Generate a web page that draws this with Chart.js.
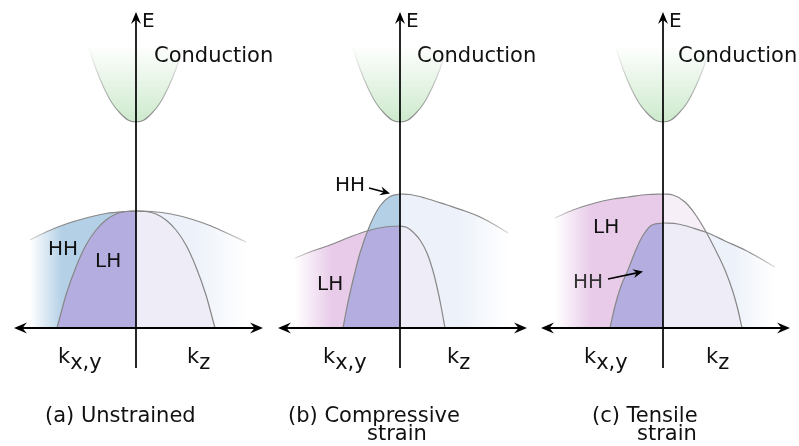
<!DOCTYPE html>
<html>
<head>
<meta charset="utf-8">
<script src="https://cdn.jsdelivr.net/npm/chart.js@4.4.0/dist/chart.umd.min.js"></script>
<style>
  html, body { margin: 0; padding: 0; background: #fff; }
  #wrap { width: 799px; height: 446px; }
</style>
</head>
<body>
<div id="wrap"><canvas id="bands" width="799" height="446"></canvas></div>
<script>
// k along the horizontal axis (left = kx,y, right = kz), E upwards, E = 0 on the k axis
const condK = [-0.48, -0.40, -0.32, -0.24, -0.16, -0.08, 0, 0.08, 0.16, 0.24, 0.32, 0.40, 0.48];
const condE = [2.83, 2.59, 2.40, 2.25, 2.15, 2.08, 2.06, 2.08, 2.15, 2.25, 2.40, 2.59, 2.83];

// (a) unstrained
const aHHleftK = [-1.06, -0.9, -0.7, -0.5, -0.3, -0.1, 0];
const aHHleftE = [0.88, 0.96, 1.04, 1.10, 1.145, 1.165, 1.17];
const aHHrightK = [0, 0.15, 0.35, 0.55, 0.75, 0.95, 1.10];
const aHHrightE = [1.17, 1.165, 1.14, 1.09, 1.02, 0.93, 0.86];
const aLHleftK = [-0.79, -0.75, -0.7, -0.6, -0.5, -0.4, -0.3, -0.2, -0.1, 0];
const aLHleftE = [0, 0.15, 0.33, 0.61, 0.83, 0.98, 1.08, 1.14, 1.165, 1.17];
const aLHrightK = [0, 0.1, 0.2, 0.3, 0.4, 0.5, 0.6, 0.7, 0.75, 0.79];
const aLHrightE = [1.17, 1.165, 1.14, 1.08, 0.98, 0.83, 0.61, 0.33, 0.15, 0];

// (b) compressive strain
const bLHleftK = [-1.05, -0.9, -0.7, -0.5, -0.33, -0.15, 0];
const bLHleftE = [0.70, 0.76, 0.83, 0.91, 0.97, 1.01, 1.02];
const bHHleftK = [-0.57, -0.54, -0.5, -0.45, -0.4, -0.3, -0.2, -0.1, 0];
const bHHleftE = [0, 0.16, 0.35, 0.56, 0.75, 1.03, 1.22, 1.315, 1.34];
const bHHrightK = [0, 0.1, 0.25, 0.47, 0.65, 0.8, 0.95, 1.08];
const bHHrightE = [1.34, 1.335, 1.30, 1.23, 1.17, 1.11, 1.03, 0.95];
const bLHrightK = [0, 0.07, 0.13, 0.2, 0.27, 0.33, 0.37, 0.41, 0.45];
const bLHrightE = [1.02, 1.005, 0.96, 0.88, 0.75, 0.57, 0.41, 0.22, 0];

// (c) tensile strain
const cLHleftK = [-1.08, -0.9, -0.68, -0.5, -0.35, -0.15, 0];
const cLHleftE = [1.10, 1.18, 1.25, 1.29, 1.31, 1.335, 1.34];
const cHHleftK = [-0.53, -0.48, -0.42, -0.35, -0.28, -0.21, -0.11, 0];
const cHHleftE = [0, 0.22, 0.42, 0.58, 0.76, 0.91, 1.03, 1.05];
const cLHrightK = [0, 0.1, 0.22, 0.32, 0.42, 0.52, 0.62, 0.7, 0.75, 0.79];
const cLHrightE = [1.34, 1.33, 1.26, 1.14, 0.98, 0.79, 0.58, 0.36, 0.18, 0];
const cHHrightK = [0, 0.15, 0.3, 0.45, 0.62, 0.82, 1.0, 1.12];
const cHHrightE = [1.05, 1.04, 1.00, 0.95, 0.87, 0.78, 0.68, 0.61];

const panelTitles = [["(a) Unstrained"], ["(b) Compressive", "strain"], ["(c) Tensile", "strain"]];
const axisNames = ["E", "k", "x,y", "z"];
const bandNames = ["HH", "LH"];

const FONT = "'DejaVu Sans', Verdana, sans-serif";
const BLUE = "180,208,230";
const PURPLE = "180,173,224";
const PINK = "232,203,233";
const PALE_BLUE = "237,242,250";
const LAVENDER = "238,236,247";
const PALE_PINK = "247,239,248";
const GREEN = "196,230,196";
const LINE = "135,135,135";

const pts = (ks, es) => ks.map((k, i) => ({ x: k, y: es[i] }));

function fadeX(xid, k0, k1, rgb, a0, a1) {
    return (c) => {
        const chart = c.chart;
        if (!chart.chartArea) return `rgba(${rgb},${a1})`;
        const s = chart.scales[xid];
        const g = chart.ctx.createLinearGradient(s.getPixelForValue(k0), 0, s.getPixelForValue(k1), 0);
        g.addColorStop(0, `rgba(${rgb},${a0})`);
        g.addColorStop(1, `rgba(${rgb},${a1})`);
        return g;
    };
}

function fadeY(e0, e1, rgb, a0, a1) {
    return (c) => {
        const chart = c.chart;
        if (!chart.chartArea) return `rgba(${rgb},${a0})`;
        const s = chart.scales.y;
        const g = chart.ctx.createLinearGradient(0, s.getPixelForValue(e0), 0, s.getPixelForValue(e1));
        g.addColorStop(0, `rgba(${rgb},${a0})`);
        g.addColorStop(1, `rgba(${rgb},${a1})`);
        return g;
    };
}

const datasets = [];
function add(xid, ks, es, opts) {
    datasets.push(Object.assign({
        xAxisID: xid,
        yAxisID: "y",
        data: pts(ks, es),
        borderWidth: 0,
        borderColor: "rgba(0,0,0,0)",
        backgroundColor: "rgba(0,0,0,0)",
        fill: false,
        pointRadius: 0,
        cubicInterpolationMode: "monotone"
    }, opts));
    return datasets.length - 1;
}
function stroke(xid, ks, es, color) {
    add(xid, ks, es, { borderWidth: 1.2, borderColor: color || `rgb(${LINE})` });
}

const solid = (rgb) => `rgb(${rgb})`;
const clear = "rgba(0,0,0,0)";

// fills, back to front
["xa", "xb", "xc"].forEach((xid) => {
    add(xid, condK, condE, { fill: { value: 2.83 }, backgroundColor: fadeY(2.06, 2.83, GREEN, 0.85, 0) });
});

add("xa", aHHleftK, aHHleftE, { fill: "origin", backgroundColor: fadeX("xa", -1.06, -0.74, BLUE, 0, 1) });
add("xa", aHHrightK, aHHrightE, { fill: "origin", backgroundColor: fadeX("xa", 0.6, 1.10, PALE_BLUE, 1, 0) });
add("xa", aLHleftK, aLHleftE, { fill: "origin", backgroundColor: solid(PURPLE) });
add("xa", aLHrightK, aLHrightE, { fill: "origin", backgroundColor: solid(LAVENDER) });

const bLHfill = add("xb", bLHleftK, bLHleftE, { fill: "origin", backgroundColor: fadeX("xb", -1.05, -0.68, PINK, 0, 1) });
add("xb", bHHrightK, bHHrightE, { fill: "origin", backgroundColor: fadeX("xb", 0.6, 1.08, PALE_BLUE, 1, 0) });
add("xb", bHHleftK, bHHleftE, { fill: "origin", backgroundColor: solid(PURPLE) });
add("xb", bHHleftK, bHHleftE, { fill: { target: bLHfill, above: solid(BLUE), below: clear } });
add("xb", bLHrightK, bLHrightE, { fill: "origin", backgroundColor: solid(LAVENDER) });

add("xc", cLHleftK, cLHleftE, { fill: "origin", backgroundColor: fadeX("xc", -1.08, -0.72, PINK, 0, 1) });
const cHHfill = add("xc", cHHrightK, cHHrightE, { fill: "origin", backgroundColor: fadeX("xc", 0.7, 1.12, PALE_BLUE, 1, 0) });
add("xc", cHHleftK, cHHleftE, { fill: "origin", backgroundColor: solid(PURPLE) });
add("xc", cLHrightK, cLHrightE, { fill: "origin", backgroundColor: solid(LAVENDER) });
add("xc", cLHrightK, cLHrightE, { fill: { target: cHHfill, above: solid(PALE_PINK), below: clear } });

// outlines on top
["xa", "xb", "xc"].forEach((xid) => {
    add(xid, condK, condE, { borderWidth: 1.1, borderColor: fadeY(2.06, 2.83, LINE, 1, 0) });
});
stroke("xa", aHHleftK, aHHleftE, fadeX("xa", -1.06, -0.8, LINE, 0.3, 1));
stroke("xa", aHHrightK, aHHrightE, fadeX("xa", 0.8, 1.10, LINE, 1, 0.3));
stroke("xa", aLHleftK, aLHleftE);
stroke("xa", aLHrightK, aLHrightE);
stroke("xb", bLHleftK, bLHleftE, fadeX("xb", -1.05, -0.8, LINE, 0.3, 1));
stroke("xb", bHHrightK, bHHrightE, fadeX("xb", 0.8, 1.08, LINE, 1, 0.3));
stroke("xb", bHHleftK, bHHleftE);
stroke("xb", bLHrightK, bLHrightE);
stroke("xc", cLHleftK, cLHleftE, fadeX("xc", -1.08, -0.8, LINE, 0.3, 1));
stroke("xc", cHHrightK, cHHrightE, fadeX("xc", 0.85, 1.12, LINE, 1, 0.3));
stroke("xc", cHHleftK, cHHleftE);
stroke("xc", cLHrightK, cLHrightE);

// later datasets are drawn on top
datasets.forEach((d, i) => { d.order = -i; });

// text and arrows of each panel, in k / E units of that panel
const panels = [
    { xid: "xa", cond: 0.18, kxy: -0.78, kz: 0.51, title: [-0.91], hh: [-0.88, 0.73], lh: [-0.41, 0.61], arrow: null },
    { xid: "xb", cond: 0.17, kxy: -0.77, kz: 0.47, title: [-1.12, -0.33], hh: [-0.65, 1.37], lh: [-0.83, 0.38], arrow: [-0.31, 1.40, -0.10, 1.345] },
    { xid: "xc", cond: 0.15, kxy: -0.79, kz: 0.43, title: [-0.71, -0.26], hh: [-0.90, 0.40], lh: [-0.70, 0.95], arrow: [-0.55, 0.49, -0.20, 0.565] }
];

function arrowHead(ctx, x, y, ang, len, half) {
    ctx.save();
    ctx.translate(x, y);
    ctx.rotate(ang);
    ctx.beginPath();
    ctx.moveTo(0, 0);
    ctx.lineTo(-len, -half);
    ctx.lineTo(-len * 0.65, 0);
    ctx.lineTo(-len, half);
    ctx.closePath();
    ctx.fill();
    ctx.restore();
}

const axesPlugin = {
    id: "bandAxes",
    afterDatasetsDraw(chart) {
        const ctx = chart.ctx;
        const y = chart.scales.y;
        ctx.save();
        ctx.strokeStyle = "#000";
        ctx.fillStyle = "#000";
        panels.forEach((p) => {
            const x = chart.scales[p.xid];
            const x0 = x.getPixelForValue(0);
            const y0 = y.getPixelForValue(0);
            // E axis
            ctx.lineWidth = 1.7;
            ctx.beginPath();
            ctx.moveTo(x0, y.getPixelForValue(-0.40));
            ctx.lineTo(x0, y.getPixelForValue(3.16) + 6);
            ctx.stroke();
            arrowHead(ctx, x0, y.getPixelForValue(3.16), -Math.PI / 2, 12, 5);
            // k axis
            const xl = x.getPixelForValue(-1.22);
            const xr = x.getPixelForValue(1.27);
            ctx.lineWidth = 1.8;
            ctx.beginPath();
            ctx.moveTo(xl + 6, y0);
            ctx.lineTo(xr - 6, y0);
            ctx.stroke();
            arrowHead(ctx, xl, y0, Math.PI, 13, 5.5);
            arrowHead(ctx, xr, y0, 0, 13, 5.5);
            // label arrows
            if (p.arrow) {
                const [k1, e1, k2, e2] = p.arrow;
                const ax1 = x.getPixelForValue(k1), ay1 = y.getPixelForValue(e1);
                const ax2 = x.getPixelForValue(k2), ay2 = y.getPixelForValue(e2);
                const ang = Math.atan2(ay2 - ay1, ax2 - ax1);
                ctx.lineWidth = 1.7;
                ctx.beginPath();
                ctx.moveTo(ax1, ay1);
                ctx.lineTo(ax2 - 5 * Math.cos(ang), ay2 - 5 * Math.sin(ang));
                ctx.stroke();
                arrowHead(ctx, ax2, ay2, ang, 10, 4.5);
            }
        });
        ctx.restore();
    },
    afterDraw(chart) {
        const ctx = chart.ctx;
        const y = chart.scales.y;
        ctx.save();
        ctx.fillStyle = "#111";
        ctx.textAlign = "left";
        ctx.textBaseline = "alphabetic";
        panels.forEach((p, i) => {
            const x = chart.scales[p.xid];
            const px = (k) => x.getPixelForValue(k);
            const py = (e) => y.getPixelForValue(e);
            ctx.fillStyle = "#111";
            ctx.font = `20px ${FONT}`;
            ctx.fillText(axisNames[0], px(0.06), py(3.01));
            ctx.font = `21px ${FONT}`;
            ctx.fillText("Conduction", px(p.cond), py(2.66));
            // k labels with lowered index
            ctx.fillText(axisNames[1], px(p.kxy), py(-0.35));
            const kw = ctx.measureText(axisNames[1]).width;
            ctx.fillText(axisNames[2], px(p.kxy) + kw, py(-0.41));
            ctx.fillText(axisNames[1], px(p.kz), py(-0.35));
            ctx.fillText(axisNames[3], px(p.kz) + kw, py(-0.41));
            // titles
            ctx.fillText(panelTitles[i][0], px(p.title[0]), py(-0.94));
            if (panelTitles[i][1]) ctx.fillText(panelTitles[i][1], px(p.title[1]), py(-1.12));
            // band names
            ctx.font = `20px ${FONT}`;
            ctx.fillStyle = i === 2 ? "#333" : "#111";
            ctx.fillText(bandNames[0], px(p.hh[0]), py(p.hh[1]));
            ctx.fillStyle = "#111";
            ctx.fillText(bandNames[1], px(p.lh[0]), py(p.lh[1]));
        });
        ctx.restore();
    }
};

const hidden = (min, max) => ({ type: "linear", display: false, min: min, max: max });

new Chart(document.getElementById("bands"), {
    type: "line",
    data: { datasets },
    options: {
        responsive: false,
        animation: false,
        devicePixelRatio: 1,
        layout: { padding: 0 },
        plugins: { legend: { display: false }, tooltip: { enabled: false } },
        scales: {
            xa: hidden(-1.36, 6.63),
            xb: hidden(-4.00, 3.99),
            xc: hidden(-6.63, 1.36),
            y: hidden(-1.18, 3.28)
        }
    },
    plugins: [axesPlugin]
});
</script>
</body>
</html>
